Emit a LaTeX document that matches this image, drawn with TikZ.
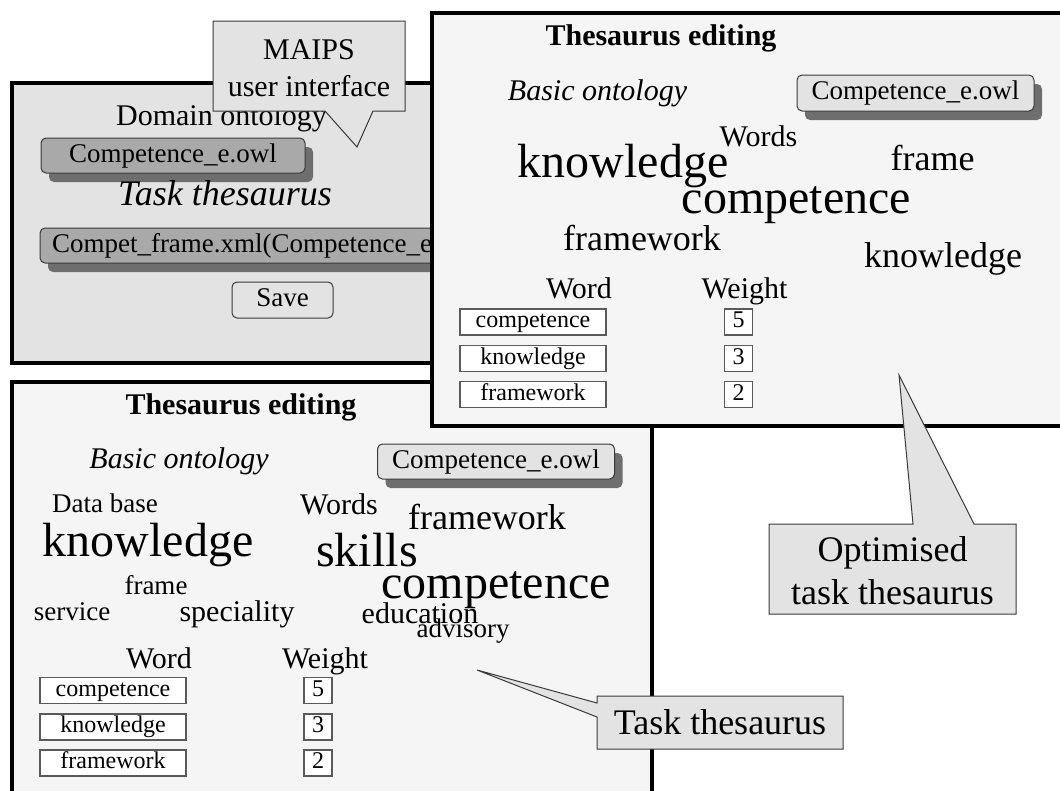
\documentclass[tikz,border=0pt]{standalone}
\usepackage{fontspec}
\setmainfont{Liberation Serif}
\usetikzlibrary{shadows}
\definecolor{panelgray}{HTML}{E3E3E3}
\definecolor{panellight}{HTML}{F5F5F5}
\definecolor{btngray}{HTML}{A9A9A9}
\definecolor{shgray}{HTML}{6E6E6E}
\definecolor{edgegray}{HTML}{3A3A3A}
\definecolor{tblgray}{HTML}{5A5A5A}
\newcommand\fsz[1]{\fontsize{#1}{#1}\selectfont}
\begin{document}
\begin{tikzpicture}[x=1pt,y=-1pt,
  every node/.style={inner sep=0pt, outer sep=0pt},
  win/.style={draw=black, line width=4pt, anchor=north west},
  btnbox/.style={draw=edgegray, line width=1pt, rounded corners=5pt,
    text height=19pt, text depth=6pt,
    general shadow={fill=shgray, shadow xshift=8pt, shadow yshift=-9pt}},
  tblbox/.style={draw=tblgray, line width=1.2pt, fill=white, minimum height=26pt,
    text height=16.5pt, text depth=5pt, font=\fsz{24}},
  callout/.style={fill=panelgray, draw=edgegray, line width=1pt},
  w30/.style={font=\fsz{30}},
  w27/.style={font=\fsz{27}},
  w36/.style={font=\fsz{36}},
  w48/.style={font=\fsz{48}},
  ttl/.style={font=\fsz{30}\bfseries},
  ital/.style={font=\fsz{30}\itshape}
]
\useasboundingbox (0,0) rectangle (1060,790);
\clip (0,0) rectangle (1060,790);
\fill[white] (0,0) rectangle (1060,790);

% ---------- window 1 ----------
\node[win, fill=panelgray, minimum width=600pt, minimum height=280pt] (w1) at (12,83) {};
\node[w30] (domain) at (221.5,118.5) {Domain ontology};
\node[btnbox, fill=btngray, minimum width=264pt, minimum height=35pt, font=\fsz{27}] (b1) at (173,155.5) {Competence\_e.owl};
\node[font=\fsz{36}\itshape] (task1) at (225,193.5) {Task thesaurus};
\node[btnbox, fill=btngray, minimum width=540pt, minimum height=35pt, anchor=west] (b2) at (40,245.5) {};
\node[w27, anchor=west, text height=19pt, text depth=6pt] (b2t) at ([xshift=12pt]b2.west) {Compet\_frame.xml(Competence\_e.owl)};
\node[draw=edgegray, line width=1pt, rounded corners=5pt, fill=panelgray, minimum width=101pt, minimum height=36pt, text height=19pt, text depth=6pt, font=\fsz{27}] (save) at (282.5,300) {Save};

% ---------- window 3 ----------
\node[win, fill=panellight, minimum width=640pt, minimum height=430pt] (w3) at (12,382) {};
\node[ttl] (t3) at (241,407.5) {Thesaurus editing};
\node[ital] (bo3) at (179,461) {Basic ontology};
\node[btnbox, fill=panelgray, minimum width=237pt, minimum height=35pt, font=\fsz{27}] (b3) at (496,461.5) {Competence\_e.owl};
\node[w27] (c3a) at (105,503) {Data base};
\node[w30] (c3b) at (339,504) {Words};
\node[w36] (c3c) at (487,517) {framework};
\node[w48] (c3d) at (148,545) {knowledge};
\node[w48] (c3e) at (367,550) {skills};
\node[w27] (c3f) at (156,585) {frame};
\node[w48] (c3g) at (496,590) {competence};
\node[w27] (c3h) at (72,612) {service};
\node[w30] (c3i) at (237,614) {speciality};
\node[w30] (c3j) at (420,613) {education};
\node[w27] (c3k) at (463,631.5) {advisory};
\node[w30, anchor=base] (wd3) at (159,668) {Word};
\node[w30, anchor=base] (wt3) at (325,668) {Weight};
\node[tblbox, minimum width=146pt] (r3a) at (113,690.5) {competence};
\node[tblbox, minimum width=146pt] (r3b) at (113,727) {knowledge};
\node[tblbox, minimum width=146pt] (r3c) at (113,763) {framework};
\node[tblbox, minimum width=28pt] (n3a) at (318,690.5) {5};
\node[tblbox, minimum width=28pt] (n3b) at (318,727) {3};
\node[tblbox, minimum width=28pt] (n3c) at (318,763) {2};

% ---------- window 2 ----------
\node[win, fill=panellight, minimum width=700pt, minimum height=413pt] (w2) at (432,13) {};
\node[ttl] (t2) at (661,38.5) {Thesaurus editing};
\node[ital] (bo2) at (597.5,93) {Basic ontology};
\node[btnbox, fill=panelgray, minimum width=237pt, minimum height=36pt, font=\fsz{27}] (bx2) at (915.5,93) {Competence\_e.owl};
\node[w30] (c2a) at (758.5,136) {Words};
\node[w48] (c2b) at (623,166) {knowledge};
\node[w36] (c2c) at (932.5,158) {frame};
\node[w48] (c2d) at (796.5,205) {competence};
\node[w36] (c2e) at (642,238) {framework};
\node[w36] (c2f) at (943,259) {knowledge};
\node[w30, anchor=base] (wd2) at (579,298) {Word};
\node[w30, anchor=base] (wt2) at (744.5,298) {Weight};
\node[tblbox, minimum width=146pt] (r2a) at (533,322) {competence};
\node[tblbox, minimum width=146pt] (r2b) at (533,358.5) {knowledge};
\node[tblbox, minimum width=146pt] (r2c) at (533,394.5) {framework};
\node[tblbox, minimum width=28pt] (n2a) at (738.5,322) {5};
\node[tblbox, minimum width=28pt] (n2b) at (738.5,358.5) {3};
\node[tblbox, minimum width=28pt] (n2c) at (738.5,394.5) {2};

% ---------- callouts ----------
\node[minimum width=192pt, minimum height=90pt] (mbox) at (309,66) {};
\filldraw[callout] (mbox.north west) -- (mbox.north east) -- (mbox.south east) -- (373,111) -- (357,147) -- (325,111) -- (mbox.south west) -- cycle;
\node[align=center, font=\fontsize{30}{37}\selectfont] (mtext) at (309,68) {MAIPS\\user interface};

\node[minimum width=247pt, minimum height=90pt] (obox) at (892.5,569) {};
\filldraw[callout] (obox.north west) -- (913,524) -- (899,375) -- (974,524) -- (obox.north east) -- (obox.south east) -- (obox.south west) -- cycle;
\node[align=center, font=\fontsize{36}{43}\selectfont] (otext) at (892.5,571) {Optimised\\task thesaurus};

\node[minimum width=246pt, minimum height=53pt] (tbox) at (720,722.5) {};
\filldraw[callout] (tbox.north west) -- (tbox.north east) -- (tbox.south east) -- (tbox.south west) -- (597,717) -- (477,670) -- (597,703) -- cycle;
\node[w36] (ttext) at (720,722.5) {Task thesaurus};
\end{tikzpicture}
\end{document}
